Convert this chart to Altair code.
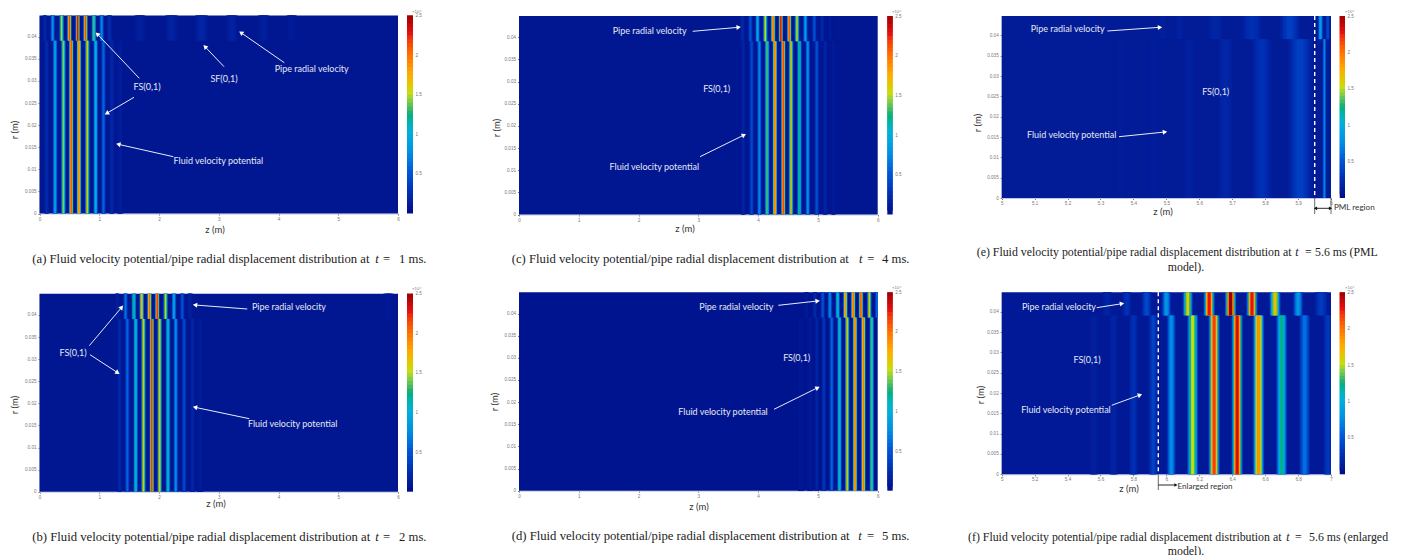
import math
import altair as alt
import pandas as pd

# ---------- values: z of each stripe (m), peak amplitude (x10^4), stripe width (m)
A_PIPE_Z = [0.09, 0.22, 0.37, 0.50, 0.64, 0.77, 0.91, 1.04, 1.17, 1.68, 2.21, 2.71, 3.22, 3.75, 4.22]
A_PIPE_V = [0.18, 0.75, 1.45, 2.10, 2.30, 2.10, 1.30, 0.70, 0.22, 0.11, 0.14, 0.16, 0.14, 0.11, 0.09]
A_PIPE_W = [0.07, 0.07, 0.07, 0.07, 0.07, 0.07, 0.07, 0.07, 0.08, 0.17, 0.20, 0.20, 0.18, 0.18, 0.16]
A_FLUID_Z = [0.12, 0.26, 0.40, 0.53, 0.66, 0.80, 0.94, 1.07, 1.21, 1.35]
A_FLUID_V = [0.22, 0.90, 1.40, 2.10, 1.90, 1.60, 1.00, 0.55, 0.18, 0.10]
A_FLUID_W = [0.07, 0.07, 0.07, 0.07, 0.07, 0.07, 0.07, 0.07, 0.08, 0.10]

B_PIPE_Z = [1.30, 1.44, 1.58, 1.71, 1.84, 1.97, 2.11, 2.25, 2.39, 2.52, 5.84]
B_PIPE_V = [0.12, 0.60, 1.20, 1.75, 2.00, 2.20, 1.55, 0.90, 0.45, 0.12, 0.07]
B_PIPE_W = [0.07, 0.07, 0.07, 0.07, 0.07, 0.07, 0.07, 0.07, 0.07, 0.09, 0.16]
B_FLUID_Z = [1.34, 1.47, 1.61, 1.74, 1.88, 2.01, 2.15, 2.28, 2.42, 2.56, 2.69]
B_FLUID_V = [0.20, 0.55, 1.10, 1.60, 2.20, 1.65, 1.10, 0.75, 0.40, 0.16, 0.08]
B_FLUID_W = [0.07, 0.07, 0.07, 0.07, 0.07, 0.07, 0.07, 0.07, 0.07, 0.08, 0.10]

C_PIPE_Z = [3.74, 3.87, 3.99, 4.12, 4.25, 4.38, 4.52, 4.65, 4.79, 4.94, 5.07, 5.20, 5.34]
C_PIPE_V = [0.20, 0.45, 0.90, 1.50, 2.00, 2.30, 2.10, 1.50, 0.85, 0.45, 0.18, 0.10, 0.07]
C_PIPE_W = [0.07] * 13
C_FLUID_Z = [3.75, 3.89, 4.02, 4.15, 4.28, 4.42, 4.55, 4.69, 4.83, 4.98, 5.12, 5.26]
C_FLUID_V = [0.16, 0.40, 0.70, 1.30, 1.95, 2.15, 1.60, 1.20, 0.75, 0.45, 0.16, 0.09]
C_FLUID_W = [0.07] * 12

D_PIPE_Z = [4.81, 4.95, 5.08, 5.20, 5.33, 5.46, 5.59, 5.72, 5.86, 5.99]
D_PIPE_V = [0.08, 0.20, 0.45, 0.70, 1.10, 1.85, 2.00, 2.10, 1.60, 0.60]
D_PIPE_W = [0.07] * 10
D_FLUID_Z = [4.72, 4.87, 4.98, 5.10, 5.23, 5.36, 5.49, 5.62, 5.76, 5.90]
D_FLUID_V = [0.06, 0.08, 0.16, 0.28, 0.55, 1.10, 1.60, 1.95, 1.95, 1.30]
D_FLUID_W = [0.10, 0.10, 0.07, 0.07, 0.07, 0.07, 0.07, 0.07, 0.07, 0.07]

E_PIPE_Z = [5.49, 5.54, 5.65, 5.76, 5.875, 5.968, 5.99]
E_PIPE_V = [0.11, 0.13, 0.16, 0.24, 0.34, 0.85, 0.40]
E_PIPE_W = [0.03, 0.03, 0.045, 0.055, 0.055, 0.014, 0.012]
E_FLUID_Z = [5.36, 5.46, 5.57, 5.68, 5.79, 5.906, 5.98]
E_FLUID_V = [0.095, 0.10, 0.13, 0.17, 0.25, 0.34, 0.70]
E_FLUID_W = [0.04, 0.04, 0.035, 0.045, 0.055, 0.065, 0.010]

F_PIPE_Z = [5.64, 5.76, 5.88, 6.00, 6.13, 6.26, 6.39, 6.52, 6.66, 6.80, 6.94]
F_PIPE_V = [0.15, 0.25, 0.40, 0.80, 1.60, 2.25, 2.50, 2.25, 1.65, 0.80, 0.32]
F_PIPE_W = [0.05, 0.05, 0.055, 0.05, 0.055, 0.06, 0.06, 0.06, 0.06, 0.055, 0.07]
F_FLUID_Z = [5.56, 5.68, 5.80, 5.92, 6.03, 6.16, 6.29, 6.43, 6.56, 6.70, 6.84, 6.98]
F_FLUID_V = [0.12, 0.15, 0.25, 0.35, 0.75, 1.50, 2.15, 2.30, 1.85, 1.20, 0.60, 0.30]
F_FLUID_W = [0.05, 0.05, 0.05, 0.05, 0.05, 0.06, 0.06, 0.06, 0.06, 0.06, 0.06, 0.05]

R_TICKS = [0, 0.005, 0.01, 0.015, 0.02, 0.025, 0.03, 0.035, 0.04]
Z_TICKS_WIDE = [0, 1, 2, 3, 4, 5, 6]
Z_TICKS_E = [5, 5.1, 5.2, 5.3, 5.4, 5.5, 5.6, 5.7, 5.8, 5.9, 6]
Z_TICKS_F = [5, 5.2, 5.4, 5.6, 5.8, 6, 6.2, 6.4, 6.6, 6.8, 7]
CB_TICKS = [0.5, 1, 1.5, 2, 2.5]
CB_STOPS = [i * 0.05 for i in range(51)]
COLOR_DOMAIN = [0, 0.25, 0.5, 0.75, 1, 1.25, 1.5, 1.75, 2, 2.25, 2.5]
COLOR_RANGE = ["#00108a", "#0030b4", "#0058d8", "#0090e2", "#00b0d8", "#20b070",
               "#c8dc10", "#ffa800", "#ff6a00", "#e81010", "#960000"]
R_TOP = 0.0448
R_WALL = 0.0391

PREFIX = "Fluid velocity potential/pipe radial displacement distribution at"

# ---------- layout (page pixels)
W, H = 1385, 547
def px(v): return v - 8

PANELS = [
    dict(pipe=(A_PIPE_Z, A_PIPE_V, A_PIPE_W), fluid=(A_FLUID_Z, A_FLUID_V, A_FLUID_W), base=0.05,
         dom=[0, 6], ticks=Z_TICKS_WIDE, x=(39.5, 398), y=(213.5, 15.5), cb=(407, 413)),
    dict(pipe=(B_PIPE_Z, B_PIPE_V, B_PIPE_W), fluid=(B_FLUID_Z, B_FLUID_V, B_FLUID_W), base=0.04,
         dom=[0, 6], ticks=Z_TICKS_WIDE, x=(39.5, 398), y=(491.7, 293.7), cb=(407, 413)),
    dict(pipe=(C_PIPE_Z, C_PIPE_V, C_PIPE_W), fluid=(C_FLUID_Z, C_FLUID_V, C_FLUID_W), base=0.04,
         dom=[0, 6], ticks=Z_TICKS_WIDE, x=(519, 877.7), y=(214.5, 16), cb=(887.3, 892.7)),
    dict(pipe=(D_PIPE_Z, D_PIPE_V, D_PIPE_W), fluid=(D_FLUID_Z, D_FLUID_V, D_FLUID_W), base=0.03,
         dom=[0, 6], ticks=Z_TICKS_WIDE, x=(519, 877.7), y=(490.7, 292.3), cb=(887.3, 892.7)),
    dict(pipe=(E_PIPE_Z, E_PIPE_V, E_PIPE_W), fluid=(E_FLUID_Z, E_FLUID_V, E_FLUID_W), base=0.08,
         dom=[5, 6], ticks=Z_TICKS_E, x=(1001.7, 1331), y=(198, 16), cb=(1339.7, 1345)),
    dict(pipe=(F_PIPE_Z, F_PIPE_V, F_PIPE_W), fluid=(F_FLUID_Z, F_FLUID_V, F_FLUID_W), base=0.07,
         dom=[5, 7], ticks=Z_TICKS_F, x=(1001.7, 1331), y=(474.3, 292.3), cb=(1339.7, 1345)),
]

NOTES = [
    ("FS(0,1)", 147, 87.3), ("SF(0,1)", 224, 79), ("Pipe radial velocity", 311.7, 69),
    ("Fluid velocity potential", 218.3, 161.3),
    ("Pipe radial velocity", 649.7, 30.7), ("FS(0,1)", 716.7, 89.3), ("Fluid velocity potential", 654.3, 167),
    ("Pipe radial velocity", 1067.7, 29), ("FS(0,1)", 1215.7, 92.3), ("Fluid velocity potential", 1071.7, 135.3),
    ("Pipe radial velocity", 289, 307.3), ("FS(0,1)", 73, 353), ("Fluid velocity potential", 292.7, 424.3),
    ("Pipe radial velocity", 736.3, 307), ("FS(0,1)", 796.7, 358.3), ("Fluid velocity potential", 723, 412.3),
    ("Pipe radial velocity", 1059, 307), ("FS(0,1)", 1087, 360), ("Fluid velocity potential", 1066, 410),
]
REGION_NOTES = [("PML region", 1354.3, 208.3), ("Enlarged region", 1205, 486.5)]
Z_TITLES = [("z (m)", 215, 230), ("z (m)", 216, 504), ("z (m)", 685, 229), ("z (m)", 699, 507), ("z (m)", 1163, 212), ("z (m)", 1129, 489)]
R_TITLES = [("r (m)", 15, 130), ("r (m)", 15, 405), ("r (m)", 497, 128), ("r (m)", 495, 402), ("r (m)", 978, 123), ("r (m)", 981, 395)]
CB_NOTES = [("×10⁴", 412, 12), ("×10⁴", 412, 289), ("×10⁴", 892, 12), ("×10⁴", 892, 288), ("×10⁴", 1345, 12), ("×10⁴", 1345, 288)]
ARROWS = [
    (139.3, 78.3, 97.3, 34), (134, 97.3, 106.7, 113.3), (224, 66.7, 205, 46.7), (284.3, 62.7, 241, 32.7), (173.3, 156.7, 118.3, 144.3),
    (692.7, 31.3, 738.7, 27.3), (700, 156.7, 744, 135),
    (1107.3, 31, 1160, 27.3), (1119, 136.7, 1165, 132),
    (247.3, 309, 195, 305), (89.3, 345.7, 121.7, 307.3), (90, 354.7, 117.7, 372.7), (249.3, 418.7, 195, 407.3),
    (778.3, 305.3, 817.7, 301), (774, 409.3, 817.7, 387.7),
    (1096.7, 307.7, 1122, 303.7), (1111.7, 405.3, 1140, 395),
]
DARK_ARROWS = [(1323, 208.3, 1315.5, 208.3), (1323, 208.3, 1330.5, 208.3), (1158.3, 485, 1176, 485)]
DASHES = [(1314.7, 16, 1314.7, 198), (1158.3, 292.3, 1158.3, 474.3)]
LEADS = [(1314.7, 198, 1314.7, 214), (1331, 198, 1331, 214), (1158.3, 474.3, 1158.3, 490)]
BIG = 12.7
SMALL = 11.85
CAPTION_PARTS = [
    # text, x, y, anchor, italic, font size
    ("(a)  " + PREFIX, 32.3, 259, "left", False, BIG), ("t", 377, 259, "center", True, BIG), ("=", 383, 259, "left", False, BIG), ("1 ms.", 399, 259, "left", False, BIG),
    ("(b)  " + PREFIX, 32.3, 537, "left", False, BIG), ("t", 377, 537, "center", True, BIG), ("=", 383, 537, "left", False, BIG), ("2 ms.", 399, 537, "left", False, BIG),
    ("(c)  " + PREFIX, 511.7, 259, "left", False, BIG), ("t", 860.7, 259, "center", True, BIG), ("=", 867.3, 259, "left", False, BIG), ("4 ms.", 882, 259, "left", False, BIG),
    ("(d)  " + PREFIX, 511.7, 535.7, "left", False, BIG), ("t", 860, 535.7, "center", True, BIG), ("=", 867, 535.7, "left", False, BIG), ("5 ms.", 882, 535.7, "left", False, BIG),
    ("(e)  " + PREFIX, 976.7, 252, "left", False, SMALL), ("t", 1297, 252, "center", True, SMALL), ("=", 1305, 252, "left", False, SMALL), ("5.6 ms (PML", 1315, 252, "left", False, SMALL),
    ("model).", 1186, 266.7, "center", False, SMALL),
    ("(f)  " + PREFIX, 968, 537, "left", False, SMALL), ("t", 1288, 537, "center", True, SMALL), ("=", 1295, 537, "left", False, SMALL), ("5.6 ms (enlarged", 1309, 537, "left", False, SMALL),
    ("model).", 1186, 551, "center", False, SMALL),
]

# ---------- shared colour
color = alt.Color("v:Q", legend=None,
                  scale=alt.Scale(domain=COLOR_DOMAIN, range=COLOR_RANGE, clamp=True))

LEVELS = [(1.08, 0.22), (0.85, 0.5), (0.62, 0.78), (0.32, 1.0)]

def cells(panel):
    d0, d1 = panel["dom"]
    base = panel["base"]
    rows = [dict(z=d0, z2=d1, r=0, r2=R_TOP, v=base)]
    for wide, share in LEVELS:
        for (zs, vs, ws), r0, r1 in ((panel["fluid"], 0, R_WALL), (panel["pipe"], R_WALL, R_TOP)):
            for zc, val, wd in zip(zs, vs, ws):
                rows.append(dict(z=max(d0, zc - wd * wide / 2), z2=min(d1, zc + wd * wide / 2),
                                 r=r0, r2=r1, v=base + (val - base) * share))
    return pd.DataFrame(rows)

TICK = "#777777"
layers = []
for p in PANELS:
    xs = alt.Scale(domain=p["dom"], range=[px(p["x"][0]), px(p["x"][1])], nice=False, zero=False)
    ys = alt.Scale(domain=[0, R_TOP], range=[px(p["y"][0]), px(p["y"][1])], nice=False, zero=False)
    heat = alt.Chart(cells(p)).mark_rect(stroke=None).encode(
        x=alt.X("z:Q", scale=xs, title=None, axis=alt.Axis(
            values=p["ticks"], format="~g", orient="bottom", offset=-(H - px(p["y"][0])), grid=False,
            labelFontSize=4.6, labelColor=TICK, labelPadding=1, tickSize=1.5, tickColor=TICK,
            domainColor="#c3c9e0", labelFont="Liberation Sans", labelFlush=False, labelOverlap=False)),
        x2="z2:Q",
        y=alt.Y("r:Q", scale=ys, title=None, axis=alt.Axis(
            values=R_TICKS, format="~g", orient="left", offset=-px(p["x"][0]), grid=False,
            labelFontSize=4.6, labelColor=TICK, labelPadding=2, tickSize=1.5, tickColor=TICK,
            domainColor="#c3c9e0", labelFont="Liberation Sans", labelFlush=False, labelOverlap=False)),
        y2="r2:Q",
        color=color,
    )
    layers.append(heat)
    cb_rows = pd.DataFrame({"b": CB_STOPS[:-2] + [CB_STOPS[-2]],
                            "b2": CB_STOPS[2:] + [CB_STOPS[-1]],
                            "c0": 0, "c1": 1, "v": CB_STOPS[:-1]})
    cbx = alt.Scale(domain=[0, 1], range=[px(p["cb"][0]), px(p["cb"][1])], nice=False, zero=False)
    cby = alt.Scale(domain=[0, 2.5], range=[px(p["y"][0]), px(p["y"][1])], nice=False, zero=False)
    bar = alt.Chart(cb_rows).mark_rect(stroke=None).encode(
        x=alt.X("c0:Q", scale=cbx, axis=None),
        x2="c1:Q",
        y=alt.Y("b:Q", scale=cby, title=None, axis=alt.Axis(
            values=CB_TICKS, format="~g", orient="right", offset=px(p["cb"][1]) - W, grid=False,
            labelFontSize=4.6, labelColor=TICK, labelPadding=2, ticks=False, domain=False,
            labelFont="Liberation Sans", labelFlush=False, labelOverlap=False)),
        y2="b2:Q",
        color=color,
    )
    layers.append(bar)

def seg_table(items):
    return pd.DataFrame([dict(x=px(a), y=px(b), x2=px(c), y2=px(d)) for a, b, c, d in items])

def head_table(items):
    rows = []
    for a, b, c, d in items:
        rows.append(dict(x=px(c), y=px(d), ang=math.degrees(math.atan2(c - a, b - d)) % 360))
    return pd.DataFrame(rows)

def rule(items, **kw):
    return alt.Chart(seg_table(items)).mark_rule(**kw).encode(
        x=alt.X("x:Q", scale=None, axis=None), x2="x2:Q",
        y=alt.Y("y:Q", scale=None, axis=None), y2="y2:Q")

def heads(items, col, size):
    return alt.Chart(head_table(items)).mark_point(shape="triangle-up", filled=True, color=col, size=size, opacity=1).encode(
        x=alt.X("x:Q", scale=None, axis=None),
        y=alt.Y("y:Q", scale=None, axis=None),
        angle=alt.Angle("ang:Q", scale=None))

def texts(items, **kw):
    df = pd.DataFrame([dict(t=t, x=px(a), y=px(b)) for t, a, b in items])
    return alt.Chart(df).mark_text(**kw).encode(
        x=alt.X("x:Q", scale=None, axis=None),
        y=alt.Y("y:Q", scale=None, axis=None),
        text="t:N")

layers += [
    rule(ARROWS, color="#e8ecf8", strokeWidth=1),
    heads(ARROWS, "#ffffff", 26),
    rule(DASHES, color="#ffffff", strokeWidth=1.4, strokeDash=[4, 3]),
    rule(LEADS, color="#444444", strokeWidth=0.8),
    rule(DARK_ARROWS, color="#111111", strokeWidth=0.9),
    heads(DARK_ARROWS, "#111111", 14),
    texts(NOTES, font="Lato", fontSize=9, color="#e4e8f4", align="center", baseline="middle"),
    texts(REGION_NOTES, font="Lato", fontSize=8.1, color="#333333", align="center", baseline="middle"),
    texts(Z_TITLES, font="Lato", fontSize=9.5, color="#333333", align="center", baseline="middle"),
    texts(R_TITLES, font="Lato", fontSize=9.5, color="#333333", align="center", baseline="middle", angle=270),
    texts(CB_NOTES, font="Liberation Sans", fontSize=4.4, color=TICK, align="left", baseline="middle"),
]

for size in (BIG, SMALL):
    for anchor, italic in (("left", False), ("center", False), ("center", True)):
        subset = [(t, a, b) for t, a, b, an, it, sz in CAPTION_PARTS if an == anchor and it == italic and sz == size]
        if not subset:
            continue
        kw = dict(font="Liberation Serif", fontSize=size, color="#222222", align=anchor, baseline="middle")
        if italic:
            kw["fontStyle"] = "italic"
        layers.append(texts(subset, **kw))

chart = alt.layer(*layers).resolve_scale(x="independent", y="independent", color="shared").properties(
    width=W, height=H, padding=0, autosize=alt.AutoSizeParams(type="none"), background="white",
).configure_view(stroke=None)

chart.save("out.html", embed_options={"renderer": "svg", "actions": False})
